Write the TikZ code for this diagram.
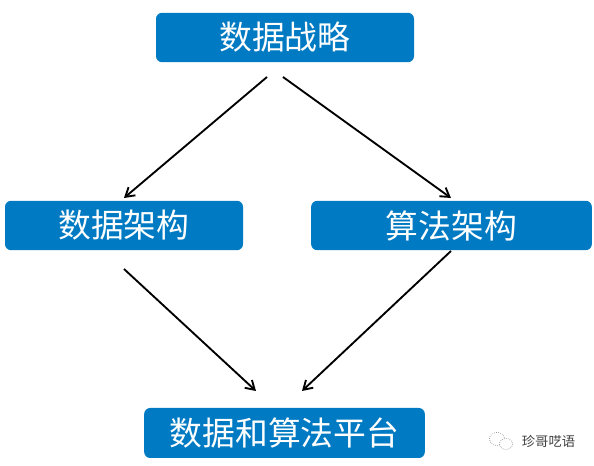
\documentclass[tikz,border=0pt]{standalone}
\usepackage{fontspec}
\newfontfamily\cjk{Noto Sans CJK SC}
\usetikzlibrary{arrows.meta}
\definecolor{boxblue}{RGB}{0,122,194}
\tikzset{
  x=0.75pt,y=-0.75pt,
  boxn/.style={fill=boxblue,rounded corners=4.5pt,inner sep=0pt,text=white,font=\cjk\fontsize{24.6pt}{28pt}\selectfont,anchor=center},
  conn/.style={draw=black,line width=1.4pt,-{Straight Barb[length=6.5pt,width=8pt,line width=1.4pt]}},
  markline/.style={draw=black!45,line width=0.5pt,densely dotted},
}
\begin{document}
\begin{tikzpicture}
\useasboundingbox (0,0) rectangle (594,466);
\node[boxn,minimum width=193.5pt,minimum height=37pt] (a) at (285,37.5) {数据战略};
\node[boxn,minimum width=178.5pt,minimum height=37pt] (b) at (124,225.5) {数据架构};
\node[boxn,minimum width=210.5pt,minimum height=37pt] (c) at (451.5,225.5) {算法架构};
\node[boxn,minimum width=210.5pt,minimum height=37.5pt] (d) at (284.5,433) {数据和算法平台};
\coordinate (a1) at (267,77);
\coordinate (a2) at (283,77);
\coordinate (b1) at (124,198);
\coordinate (c1) at (451,198);
\coordinate (b2) at (124,269);
\coordinate (c2) at (451,251);
\coordinate (d1) at (256,391);
\coordinate (d2) at (302,391);
\draw[conn] (a1) -- (b1);
\draw[conn] (a2) -- (c1);
\draw[conn] (b2) -- (d1);
\draw[conn] (c2) -- (d2);
\draw[markline] (497,439) circle[x radius=7.5,y radius=6.5];
\draw[markline,fill=white] (506,444) circle[x radius=6.5,y radius=5.5];
\node[font=\cjk\fontsize{10pt}{11pt}\selectfont,text=black!75] (w) at (548.5,441) {珍哥呓语};
\end{tikzpicture}
\end{document}
